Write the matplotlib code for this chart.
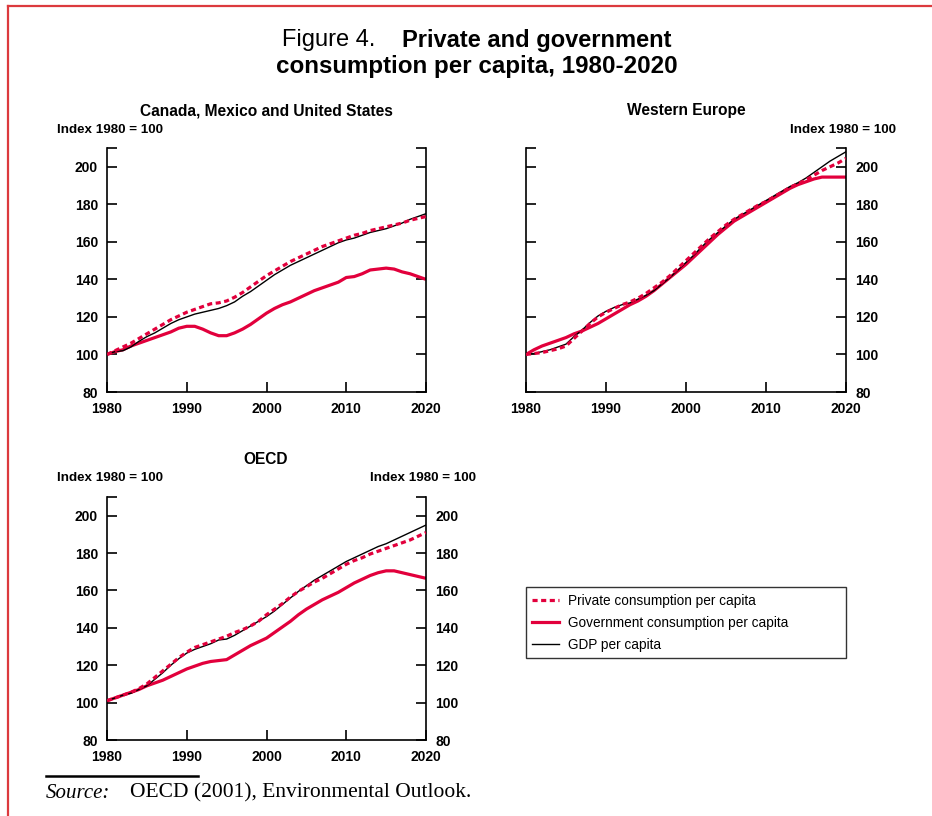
import numpy as np
import matplotlib
matplotlib.use("Agg")
import matplotlib.pyplot as plt
from matplotlib.lines import Line2D

plt.rcParams['font.family'] = ['Liberation Sans', 'DejaVu Sans']

years = list(range(1980, 2021))

# Canada, Mexico and United States
nam_private = [100, 102, 104, 106, 108.5, 111, 113.5, 116, 118.5, 120.5,
               122.5, 124, 125.5, 127, 127.5, 128.5, 130.5, 133, 136, 139,
               142, 144.5, 147, 149.5, 151.5, 153.5, 155.5, 157.5, 159, 160.5,
               162, 163.5, 164.5, 166, 167, 168, 169, 170, 171.5, 172.5, 173.5]
nam_gov = [100, 101.5, 102.5, 104.5, 106, 107.5, 109, 110.5, 112, 114,
           115, 115, 113.5, 111.5, 110, 110, 111.5, 113.5, 116, 119,
           122, 124.5, 126.5, 128, 130, 132, 134, 135.5, 137, 138.5,
           141, 141.5, 143, 145, 145.5, 146, 145.5, 144, 143, 141.5, 140]
nam_gdp = [100, 101.5, 102, 104, 107, 109.5, 111.5, 114, 116.5, 118.5,
           120, 121.5, 122.5, 123.5, 124.5, 126, 128, 131, 133.5, 136.5,
           139.5, 142.5, 145, 147.5, 149.5, 151.5, 153.5, 155.5, 157.5, 159.5,
           161, 162, 163.5, 165, 166, 167, 168.5, 170, 172, 173.5, 175]

# Western Europe
we_private = [100, 100.5, 101, 102, 103, 104.5, 108.5, 112.5, 116.5, 120,
              122.5, 124.5, 126.5, 128, 130, 132.5, 135.5, 138.5, 142, 146,
              150, 154, 158, 162, 165.5, 169, 172, 174.5, 177, 179.5,
              181.5, 184, 186.5, 189, 191, 193, 195.5, 198, 200, 202, 204.5]
we_gov = [100, 102.5, 104.5, 106, 107.5, 109, 111, 112.5, 114.5, 116.5,
          119, 121.5, 124, 126.5, 128.5, 131, 134, 137.5, 141, 144.5,
          148, 152, 156, 160, 164, 167.5, 171, 173.5, 176, 178.5,
          181, 183.5, 186, 188.5, 190.5, 192, 193.5, 194.5, 194.5, 194.5, 194.5]
we_gdp = [100, 100.5, 101.5, 102.5, 104, 105.5, 109.5, 113, 117, 120.5,
          123, 125, 126.5, 127.5, 129.5, 131.5, 134, 137.5, 141, 145,
          149, 153, 157.5, 161.5, 165, 168.5, 172, 174.5, 177, 179.5,
          182, 184.5, 187, 189.5, 191.5, 194, 197, 200, 203, 205.5, 208]

# OECD
oecd_private = [101, 102.5, 104, 105.5, 107.5, 110, 113.5, 117, 120.5, 124,
                127, 129.5, 131, 132.5, 134, 135.5, 137.5, 139, 141, 143.5,
                147, 150, 153, 156.5, 159.5, 162, 164.5, 166.5, 169, 171.5,
                174, 176, 177.5, 179.5, 181, 182.5, 184, 185.5, 187, 189, 191]
oecd_gov = [101, 102.5, 104, 105.5, 107, 109, 110.5, 112, 114, 116,
            118, 119.5, 121, 122, 122.5, 123, 125.5, 128, 130.5, 132.5,
            134.5, 137.5, 140.5, 143.5, 147, 150, 152.5, 155, 157, 159,
            161.5, 164, 166, 168, 169.5, 170.5, 170.5, 169.5, 168.5, 167.5, 166.5]
oecd_gdp = [101, 102.5, 104, 105, 107, 109, 112.5, 116, 120, 123.5,
            126.5, 128.5, 130, 131.5, 133.5, 134, 136, 138.5, 141, 143.5,
            146, 149, 152.5, 156, 159.5, 162.5, 165.5, 168, 170.5, 173,
            175.5, 177.5, 179.5, 181.5, 183.5, 185, 187, 189, 191, 193, 195]

series_labels = ["Private consumption per capita",
                 "Government consumption per capita",
                 "GDP per capita"]
yticks = [80, 100, 120, 140, 160, 180, 200]
xticks = [1980, 1990, 2000, 2010, 2020]

RED = "#e2003c"
W, H = 932, 816

fig = plt.figure(figsize=(W / 100, H / 100), dpi=100)


def px_axes(x0, y0, x1, y1):
    return fig.add_axes([x0 / W, 1 - y1 / H, (x1 - x0) / W, (y1 - y0) / H])


def draw_panel(ax, private, gov, gdp, left_labels, right_labels):
    ax.plot(years, gdp, color="black", lw=1.0, zorder=3)
    ax.plot(years, gov, color=RED, lw=2.3, solid_capstyle="butt", zorder=2)
    ax.plot(years, private, color=RED, lw=2.3, dashes=(1.6, 1.1), zorder=4)
    ax.set_xlim(1980, 2020)
    ax.set_ylim(80, 210)
    ax.spines["top"].set_visible(False)
    for s in ["left", "right", "bottom"]:
        ax.spines[s].set_linewidth(1.2)
    ax.set_yticks(yticks)
    ax.set_yticks([210], minor=True)
    ax.set_xticks(xticks)
    ax.tick_params(axis="y", which="both", direction="in", length=7, width=1.2,
                   left=True, right=True, labelleft=left_labels,
                   labelright=right_labels, labelsize=10, pad=6.5)
    ax.tick_params(axis="x", direction="in", length=7, width=1.2,
                   labelsize=10, pad=7)
    for lab in ax.get_xticklabels() + ax.get_yticklabels():
        lab.set_fontweight("bold")


ax1 = px_axes(107, 148, 426, 392)
draw_panel(ax1, nam_private, nam_gov, nam_gdp, True, False)
ax2 = px_axes(526, 148, 846, 392)
draw_panel(ax2, we_private, we_gov, we_gdp, False, True)
ax3 = px_axes(107, 497, 426, 740)
draw_panel(ax3, oecd_private, oecd_gov, oecd_gdp, True, True)

# titles
fig.text(282 / W, 1 - 40 / H, "Figure 4.", ha="left", va="center", fontsize=17)
fig.text(672 / W, 1 - 40 / H, "Private and government", ha="right", va="center",
         fontsize=17, fontweight="bold")
fig.text(477 / W, 1 - 67 / H, "consumption per capita, 1980-2020", ha="center",
         va="center", fontsize=17.4, fontweight="bold")

sub_kw = dict(ha="center", va="center", fontsize=11.2, fontweight="bold")
fig.text(266 / W, 1 - 111 / H, "Canada, Mexico and United States", **sub_kw)
fig.text(686 / W, 1 - 111 / H, "Western Europe", **sub_kw)
fig.text(266 / W, 1 - 460 / H, "OECD", **sub_kw)

idx_kw = dict(va="center", fontsize=9.6, fontweight="bold")
fig.text(57 / W, 1 - 130 / H, "Index 1980 = 100", ha="left", **idx_kw)
fig.text(896 / W, 1 - 130 / H, "Index 1980 = 100", ha="right", **idx_kw)
fig.text(57 / W, 1 - 478 / H, "Index 1980 = 100", ha="left", **idx_kw)
fig.text(476 / W, 1 - 478 / H, "Index 1980 = 100", ha="right", **idx_kw)

# legend
handles = [Line2D([], [], color=RED, lw=2.3, dashes=(1.6, 1.1)),
           Line2D([], [], color=RED, lw=2.3),
           Line2D([], [], color="black", lw=1.0)]
leg = fig.legend(handles, series_labels, loc="lower left",
                 bbox_to_anchor=(526 / W, 1 - 658 / H, 320 / W, 70 / H),
                 mode="expand", frameon=True, fancybox=False, edgecolor="black",
                 prop={"size": 9.8}, borderaxespad=0,
                 handlelength=2.0, handletextpad=0.6, labelspacing=0.6,
                 borderpad=0.45)
leg.get_frame().set_linewidth(1.0)

# source note
fig.add_artist(Line2D([46 / W, 198 / W], [1 - 776 / H, 1 - 776 / H],
                      color="black", lw=1.8))
fig.text(46 / W, 1 - 793 / H, "Source:", ha="left", va="center", fontsize=15,
         style="italic", family=['Liberation Serif', 'DejaVu Serif'])
fig.text(130 / W, 1 - 793 / H, "OECD (2001), Environmental Outlook.", ha="left",
         va="center", fontsize=15.5, family=['Liberation Serif', 'DejaVu Serif'])

# page border
BORDER = "#dc3a3e"
fig.add_artist(Line2D([8 / W, 1], [1 - 6 / H, 1 - 6 / H], color=BORDER, lw=1.6))
fig.add_artist(Line2D([8 / W, 8 / W], [0, 1 - 6 / H], color=BORDER, lw=1.6))

fig.savefig("out.png", dpi=100)
